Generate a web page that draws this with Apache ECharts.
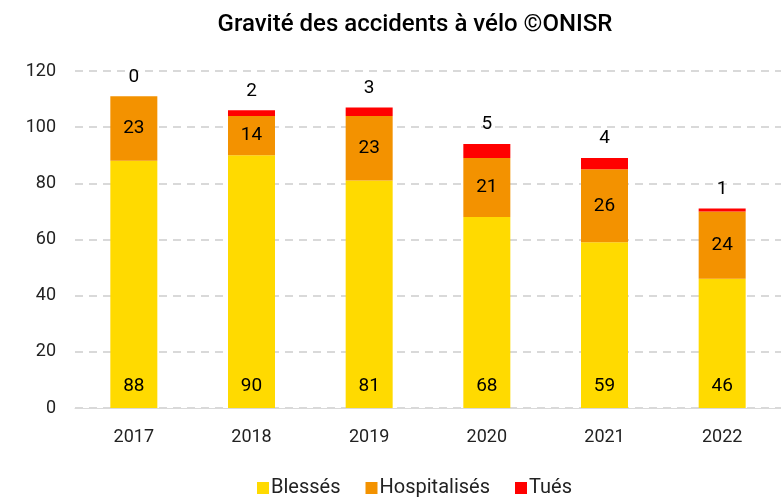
<!DOCTYPE html>
<html>
<head>
<meta charset="utf-8">
<script src="https://cdn.jsdelivr.net/npm/echarts@6/dist/echarts.min.js"></script>
<style>
  html, body { margin: 0; padding: 0; background: #fff; }
  #main { width: 781px; height: 497px; }
</style>
</head>
<body>
<div id="main"></div>
<script>
var years = ['2017', '2018', '2019', '2020', '2021', '2022']
var blesses = [88, 90, 81, 68, 59, 46]
var hospitalises = [23, 14, 23, 21, 26, 24]
var tues = [0, 2, 3, 5, 4, 1]
var yTicks = [0, 20, 40, 60, 80, 100, 120]

var font = 'Roboto'
var chart = echarts.init(document.getElementById('main'))

var option = {
  animation: false,
  textStyle: { fontFamily: font },
  title: {
    text: 'Gravité des accidents à vélo ©ONISR',
    left: 410,
    textAlign: 'center',
    top: 8,
    textStyle: { fontSize: 24, fontWeight: 500, color: '#000', fontFamily: font }
  },
  legend: {
    bottom: -6,
    left: 252,
    itemWidth: 12,
    itemHeight: 12,
    itemGap: 25,
    icon: 'rect',
    textStyle: { fontSize: 20, color: '#222', fontFamily: font, padding: [0, 0, 0, -3] },
    data: ['Blessés', 'Hospitalisés', 'Tués']
  },
  grid: { left: 75, right: 0, top: 71, bottom: 89 },
  xAxis: {
    type: 'category',
    data: years,
    axisTick: { show: false },
    axisLine: { lineStyle: { color: '#d9d9d9', width: 1 } },
    axisLabel: { fontSize: 18, color: '#222', margin: 20 }
  },
  yAxis: {
    type: 'value',
    min: yTicks[0],
    max: yTicks[yTicks.length - 1],
    interval: 20,
    axisLabel: { fontSize: 18, color: '#222', margin: 19 },
    splitLine: { lineStyle: { color: '#d9d9d9', type: [8, 6], width: 2 } }
  },
  series: [
    {
      name: 'Blessés',
      type: 'bar',
      stack: 'total',
      barWidth: 47,
      data: blesses,
      itemStyle: { color: '#FFDA00' },
      label: { show: true, position: 'insideBottom', distance: 12, fontSize: 19, color: '#000' }
    },
    {
      name: 'Hospitalisés',
      type: 'bar',
      stack: 'total',
      data: hospitalises,
      itemStyle: { color: '#F39200' },
      label: { show: true, position: 'inside', fontSize: 19, color: '#000' }
    },
    {
      name: 'Tués',
      type: 'bar',
      stack: 'total',
      data: tues,
      itemStyle: { color: '#FF0000' },
      label: { show: true, position: 'top', distance: 10, fontSize: 19, color: '#000' }
    }
  ]
}

chart.setOption(option)
</script>
</body>
</html>
